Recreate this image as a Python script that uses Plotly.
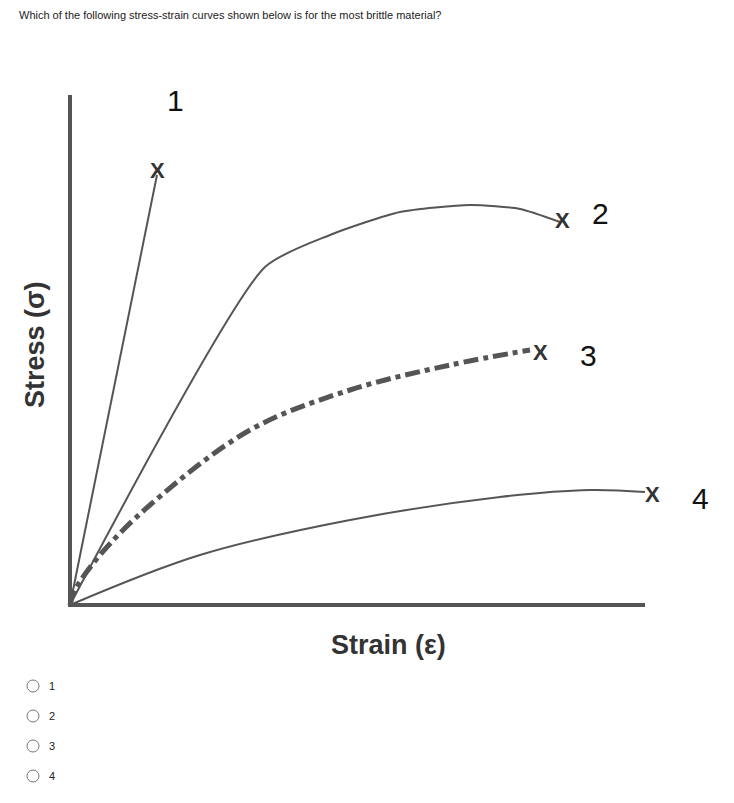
import plotly.graph_objects as go

# pixel-like data units: x = strain, y = stress
c1_x = [0, 87]; c1_y = [0, 430]
c2_x = [0, 195, 260, 330, 400, 450, 490]; c2_y = [0, 338, 370, 393, 400, 396, 383]
c3_x = [0, 5, 30, 80, 180, 280, 380, 460]; c3_y = [0, 15, 50, 100, 175, 215, 240, 255]
c4_x = [0, 130, 280, 430, 520, 575]; c4_y = [0, 50, 85, 108, 115, 113]
ends = [(87, 435, "1", 105, 505), (492, 385, "2", 530, 392), (470, 253, "3", 518, 250), (582, 111, "4", 630, 107)]
options = ["1", "2", "3", "4"]

F = "Liberation Sans"
col = "#555555"
fig = go.Figure()
fig.add_trace(go.Scatter(x=[0, 0], y=[-2, 510], mode="lines", line=dict(color=col, width=4)))
fig.add_trace(go.Scatter(x=[-2, 575], y=[0, 0], mode="lines", line=dict(color=col, width=4)))
fig.add_trace(go.Scatter(x=c1_x, y=c1_y, mode="lines", line=dict(color=col, width=2)))
fig.add_trace(go.Scatter(x=c2_x, y=c2_y, mode="lines", line=dict(color=col, width=2, shape="spline", smoothing=0.6)))
fig.add_trace(go.Scatter(x=c3_x, y=c3_y, mode="lines", line=dict(color=col, width=5, dash="dashdot", shape="spline")))
fig.add_trace(go.Scatter(x=c4_x, y=c4_y, mode="lines", line=dict(color=col, width=2, shape="spline")))

ann = []
for mx, my, lab, lx, ly in ends:
    ann.append(dict(x=mx, y=my, text="<b>X</b>", showarrow=False, font=dict(size=22, color="#333", family=F)))
    ann.append(dict(x=lx, y=ly, text=lab, showarrow=False, font=dict(size=30, color="#111", family=F)))
ann.append(dict(x=318, y=-40, text="<b>Strain (ε)</b>", showarrow=False, font=dict(size=27, color="#333", family=F)))
ann.append(dict(x=-35, y=260, text="<b>Stress (σ)</b>", textangle=-90, showarrow=False, font=dict(size=27, color="#333", family=F)))
ann.append(dict(x=-53, y=590, text="Which of the following stress-strain curves shown below is for the most brittle material?",
                xanchor="left", showarrow=False, font=dict(size=11, color="#222", family=F)))
shapes = []
for i, o in enumerate(options):
    yy = -81 - 30 * i
    shapes.append(dict(type="circle", x0=-43, x1=-31, y0=yy - 6, y1=yy + 6, line=dict(color="#777", width=1)))
    ann.append(dict(x=-23, y=yy, text=o, xanchor="left", showarrow=False, font=dict(size=11, color="#222", family=F)))

fig.update_layout(width=734, height=803, margin=dict(l=0, r=0, t=0, b=0),
                  plot_bgcolor="white", paper_bgcolor="white", showlegend=False,
                  annotations=ann, shapes=shapes)
fig.update_xaxes(range=[-62, 672], visible=False)
fig.update_yaxes(range=[-206, 597], visible=False)
fig.write_html("out.html")
